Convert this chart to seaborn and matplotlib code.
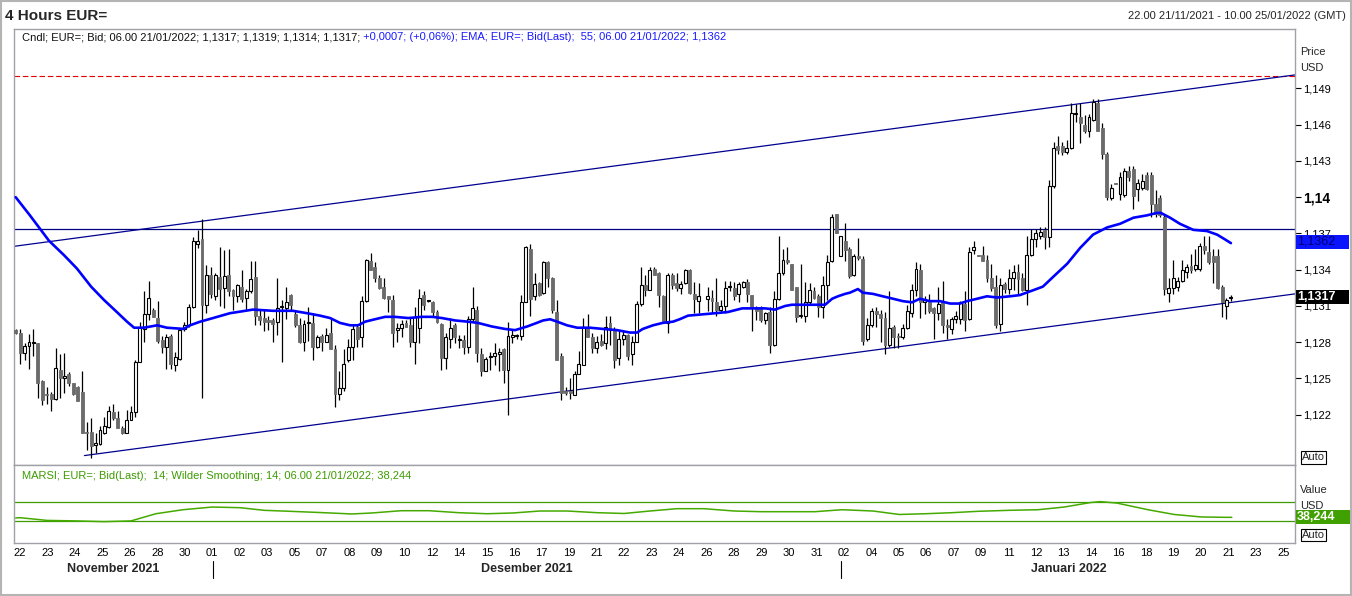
import numpy as np
import pandas as pd
import matplotlib
matplotlib.use('Agg')
import matplotlib.pyplot as plt
import seaborn as sns
from matplotlib.patches import Rectangle
from matplotlib.lines import Line2D

# ---------------- data (prices in pips: price * 10000) ----------------
opens = [
    11290, 11288, 11271, 11277, 11279, 11279, 11248, 11237, 11237, 11233,
    11257, 11250, 11254, 11246, 11243, 11239, 11206, 11206, 11195, 11196,
    11205, 11210, 11222, 11217, 11209, 11205, 11216, 11222, 11264, 11291,
    11303, 11307, 11300, 11282, 11276, 11285, 11261, 11266, 11291, 11294,
    11309, 11361, 11365, 11311, 11336, 11318, 11334, 11325, 11336, 11323,
    11318, 11326, 11317, 11322, 11334, 11302, 11300, 11298, 11298, 11297,
    11309, 11308, 11319, 11303, 11294, 11280, 11296, 11296, 11276, 11285,
    11280, 11288, 11274, 11237, 11242, 11265, 11276, 11293, 11284, 11314,
    11347, 11342, 11333, 11326, 11318, 11315, 11290, 11292, 11296, 11294,
    11280, 11292, 11319, 11314, 11313, 11305, 11295, 11267, 11283, 11294,
    11282, 11282, 11276, 11299, 11307, 11270, 11256, 11268, 11269, 11270,
    11274, 11257, 11284, 11285, 11285, 11313, 11357, 11318, 11329, 11321,
    11346, 11333, 11305, 11269, 11240, 11240, 11236, 11254, 11261, 11293,
    11284, 11275, 11281, 11279, 11296, 11290, 11267, 11283, 11286, 11270,
    11280, 11312, 11327, 11323, 11341, 11337, 11318, 11296, 11336, 11329,
    11325, 11329, 11340, 11320, 11314, None, 11316, 11317, 11313, 11307,
    11310, 11326, 11325, 11320, 11326, 11330, 11319, 11309, 11309, 11298,
    11305, 11278, 11316, 11337, 11348, 11345, 11326, 11302, 11302, 11313,
    11322, 11318, 11309, 11327, 11347, 11386, 11351, 11364, 11357, 11336,
    11351, 11349, 11283, 11294, 11306, 11303, 11300, 11278, 11293, 11285,
    11284, 11292, 11304, 11323, 11340, 11313, 11313, 11308, 11304, 11313,
    11294, 11291, 11299, 11299, 11312, 11299, 11356, 11352, 11352, 11348,
    11333, 11326, 11295, 11328, 11324, 11333, 11338, 11333, 11323, 11352,
    11365, 11368, 11373, 11367, 11409, 11442, 11442, 11437, 11441, 11469,
    11466, 11460, 11455, 11464, 11478, 11457, 11436, 11399, 11412, 11403,
    11402, 11422, 11423, 11407, 11408, 11418, 11418, 11394, 11399, 11384,
    11321, 11325, 11326, 11331, 11338, 11343, 11341, 11341, 11360, 11355,
    11351, 11351, 11326, 11310, 11317]
highs = [
    11291, 11291, 11279, 11287, 11291, 11279, 11249, 11243, 11239, 11275,
    11270, 11271, 11255, 11246, 11244, 11256, 11214, 11217, 11205, 11211,
    11218, 11227, 11229, 11223, 11211, 11224, 11227, 11265, 11297, 11322,
    11331, 11308, 11314, 11285, 11287, 11287, 11272, 11292, 11297, 11312,
    11367, 11373, 11382, 11344, 11342, 11337, 11359, 11356, 11357, 11324,
    11328, 11340, 11324, 11347, 11347, 11307, 11307, 11302, 11300, 11333,
    11315, 11326, 11320, 11307, 11300, 11298, 11309, 11304, 11286, 11287,
    11292, 11300, 11278, 11256, 11274, 11283, 11294, 11295, 11318, 11349,
    11354, 11346, 11336, 11333, 11318, 11319, 11296, 11298, 11298, 11300,
    11309, 11324, 11322, 11315, 11314, 11307, 11296, 11288, 11300, 11296,
    11286, 11286, 11302, 11326, 11310, 11275, 11268, 11272, 11279, 11275,
    11275, 11297, 11290, 11287, 11319, 11360, 11361, 11337, 11330, 11347,
    11347, 11334, 11315, 11271, 11243, 11250, 11256, 11273, 11300, 11303,
    11288, 11285, 11287, 11302, 11302, 11293, 11290, 11289, 11287, 11285,
    11314, 11342, 11336, 11342, 11342, 11338, 11319, 11337, 11337, 11337,
    11331, 11341, 11341, 11330, 11329, None, 11326, 11323, 11333, 11315,
    11331, 11331, 11330, 11330, 11331, 11332, 11319, 11310, 11310, 11305,
    11309, 11322, 11368, 11357, 11359, 11345, 11326, 11345, 11330, 11329,
    11326, 11320, 11335, 11352, 11386, 11386, 11368, 11379, 11359, 11353,
    11366, 11351, 11300, 11308, 11309, 11307, 11305, 11322, 11294, 11288,
    11295, 11311, 11328, 11346, 11345, 11318, 11320, 11309, 11326, 11331,
    11299, 11301, 11306, 11314, 11322, 11359, 11364, 11352, 11360, 11352,
    11345, 11336, 11333, 11330, 11341, 11344, 11345, 11337, 11368, 11374,
    11374, 11375, 11375, 11414, 11446, 11451, 11446, 11447, 11478, 11477,
    11478, 11468, 11469, 11481, 11481, 11461, 11437, 11411, 11412, 11421,
    11424, 11426, 11426, 11415, 11419, 11421, 11421, 11406, 11402, 11385,
    11333, 11348, 11334, 11348, 11345, 11353, 11357, 11362, 11368, 11368,
    11357, 11357, 11327, 11317, 11319]
lows = [
    11287, 11262, 11265, 11258, 11269, 11234, 11228, 11229, 11223, 11232,
    11234, 11238, 11244, 11236, 11231, 11205, 11191, 11184, 11188, 11195,
    11204, 11209, 11216, 11209, 11204, 11205, 11216, 11218, 11264, 11280,
    11298, 11301, 11279, 11271, 11258, 11258, 11256, 11265, 11289, 11293,
    11308, 11358, 11234, 11304, 11317, 11315, 11310, 11308, 11318, 11307,
    11313, 11313, 11307, 11321, 11294, 11294, 11289, 11290, 11280, 11286,
    11264, 11299, 11306, 11293, 11279, 11273, 11281, 11265, 11275, 11273,
    11280, 11274, 11226, 11232, 11240, 11264, 11265, 11276, 11276, 11313,
    11340, 11330, 11324, 11316, 11305, 11276, 11280, 11284, 11293, 11276,
    11262, 11279, 11307, 11313, 11302, 11296, 11257, 11258, 11275, 11279,
    11275, 11270, 11271, 11297, 11264, 11252, 11256, 11257, 11261, 11256,
    11246, 11220, 11279, 11283, 11282, 11313, 11302, 11315, 11318, 11320,
    11326, 11304, 11265, 11232, 11236, 11233, 11236, 11254, 11261, 11284,
    11271, 11271, 11277, 11274, 11278, 11259, 11261, 11278, 11265, 11261,
    11280, 11310, 11318, 11323, 11336, 11309, 11296, 11288, 11324, 11322,
    11320, 11328, 11320, 11304, 11304, None, 11306, 11304, 11302, 11304,
    11304, 11322, 11315, 11313, 11325, 11313, 11289, 11298, 11297, 11295,
    11271, 11277, 11315, 11336, 11345, 11323, 11297, 11300, 11297, 11311,
    11316, 11301, 11300, 11315, 11346, 11370, 11351, 11347, 11333, 11335,
    11348, 11278, 11281, 11293, 11293, 11280, 11270, 11276, 11275, 11275,
    11283, 11291, 11301, 11318, 11300, 11303, 11304, 11283, 11298, 11288,
    11283, 11287, 11296, 11295, 11289, 11298, 11353, 11351, 11347, 11330,
    11322, 11292, 11289, 11321, 11320, 11323, 11320, 11322, 11311, 11351,
    11359, 11365, 11357, 11359, 11408, 11436, 11435, 11436, 11440, 11462,
    11445, 11453, 11450, 11463, 11455, 11432, 11398, 11398, 11411, 11398,
    11400, 11413, 11390, 11397, 11406, 11406, 11384, 11384, 11384, 11319,
    11313, 11320, 11322, 11330, 11333, 11337, 11339, 11339, 11353, 11345,
    11329, 11324, 11301, 11299, 11314]
closes = [
    11288, 11271, 11277, 11280, 11280, 11246, 11232, 11236, 11233, 11259,
    11250, 11252, 11246, 11237, 11231, 11205, 11205, 11194, 11197, 11207,
    11211, 11223, 11217, 11209, 11205, 11216, 11222, 11264, 11293, 11303,
    11317, 11301, 11281, 11276, 11284, 11262, 11268, 11290, 11294, 11309,
    11364, 11364, 11311, 11336, 11320, 11336, 11324, 11335, 11322, 11318,
    11327, 11316, 11322, 11332, 11302, 11298, 11297, 11297, 11295, 11308,
    11310, 11313, 11311, 11294, 11280, 11295, 11297, 11276, 11284, 11280,
    11286, 11274, 11237, 11242, 11262, 11276, 11291, 11283, 11314, 11348,
    11340, 11333, 11325, 11317, 11316, 11288, 11292, 11295, 11293, 11280,
    11301, 11317, 11311, 11314, 11305, 11297, 11267, 11284, 11292, 11284,
    11282, 11276, 11299, 11308, 11271, 11256, 11266, 11269, 11271, 11272,
    11257, 11285, 11286, 11285, 11313, 11359, 11316, 11328, 11319, 11346,
    11333, 11307, 11265, 11238, 11238, 11238, 11254, 11262, 11293, 11284,
    11275, 11280, 11278, 11293, 11290, 11265, 11283, 11286, 11269, 11280,
    11312, 11327, 11323, 11340, 11336, 11319, 11297, 11336, 11327, 11325,
    11328, 11340, 11321, 11316, 11318, None, 11318, 11314, 11307, 11310,
    11325, 11326, 11318, 11328, 11330, 11320, 11309, 11306, 11298, 11304,
    11278, 11316, 11337, 11348, 11346, 11323, 11301, 11302, 11313, 11323,
    11317, 11309, 11327, 11346, 11384, 11370, 11368, 11356, 11335, 11351,
    11350, 11281, 11294, 11306, 11303, 11300, 11278, 11292, 11284, 11284,
    11292, 11306, 11323, 11341, 11313, 11315, 11306, 11304, 11312, 11294,
    11293, 11299, 11302, 11313, 11298, 11355, 11359, 11351, 11347, 11333,
    11325, 11294, 11327, 11324, 11333, 11338, 11332, 11323, 11352, 11365,
    11370, 11371, 11367, 11409, 11441, 11439, 11437, 11441, 11470, 11470,
    11461, 11455, 11466, 11479, 11455, 11436, 11400, 11408, 11411, 11417,
    11422, 11417, 11401, 11412, 11413, 11407, 11394, 11386, 11385, 11324,
    11325, 11333, 11331, 11340, 11342, 11340, 11344, 11360, 11356, 11346,
    11346, 11325, 11313, 11315, 11317]

# EMA(55): (bar index, value in pips)
ema_idx = [0, 3.2, 7.5, 10.9, 13.8, 17.0, 19.9, 22.8, 25.1, 26.7,
           28.9, 31.9, 34.1, 37.9, 39.3, 41.6, 44.5, 48.3, 53.5, 58.0,
           62.5, 65.7, 68.6, 70.9, 73.1, 75.4, 77.2, 78.8, 81.0, 83.3,
           85.5, 88.5, 91.6, 93.9, 96.1, 99.1, 102.0, 104.2, 107.4, 110.3,
           112.6, 115.3, 117.5, 118.9, 120.5, 122.1, 124.3, 126.6, 129.5, 132.4,
           135.6, 138.5, 140.1, 141.4, 143.7, 145.9, 148.2, 149.7, 151.6, 154.7,
           157.7, 160.6, 163.8, 166.7, 169.0, 171.2, 173.5, 175.0, 177.3, 180.2,
           182.5, 184.1, 185.4, 187.0, 188.1, 189.9, 191.0, 193.3, 195.5, 197.8,
           200.0, 202.1, 203.9, 206.1, 208.4, 210.7, 212.9, 214.5, 216.8, 219.0,
           221.3, 224.2, 226.4, 229.4, 231.6, 233.9, 237.1, 240.0, 242.9, 246.1,
           249.0, 252.0, 255.1, 257.3, 258.2, 260.3, 262.5, 265.5, 268.6, 270.9,
           272.7, 274.0]
ema_val = [11400, 11385, 11364, 11352, 11341, 11326, 11315, 11305, 11297, 11292,
           11292, 11294, 11292, 11291, 11294, 11297, 11300, 11304, 11307, 11306,
           11306, 11304, 11302, 11300, 11296, 11294, 11294, 11297, 11299, 11301,
           11301, 11300, 11301, 11301, 11300, 11298, 11297, 11296, 11293, 11291,
           11290, 11293, 11296, 11298, 11299, 11297, 11294, 11292, 11292, 11291,
           11290, 11288, 11288, 11291, 11294, 11296, 11297, 11299, 11302, 11303,
           11304, 11305, 11308, 11308, 11308, 11307, 11310, 11311, 11311, 11311,
           11311, 11316, 11318, 11320, 11321, 11324, 11321, 11320, 11318, 11316,
           11314, 11313, 11316, 11314, 11314, 11312, 11312, 11314, 11316, 11318,
           11317, 11318, 11319, 11323, 11326, 11334, 11345, 11358, 11369, 11375,
           11378, 11383, 11385, 11387, 11387, 11383, 11378, 11373, 11372, 11369,
           11365, 11362]

# MA-RSI
rsi_idx = [0, 1.0, 7.1, 13.6, 19.9, 26.0, 31.6, 37.7, 44.3, 50.6,
           56.0, 61.8, 69.5, 75.8, 80.3, 86.9, 93.2, 99.9, 106.3, 112.1,
           118.2, 124.3, 131.1, 137.2, 143.0, 149.1, 155.2, 162.0, 168.1, 174.1,
           180.2, 186.3, 193.3, 199.2, 205.1, 211.1, 217.0, 224.0, 230.5, 236.4,
           242.3, 244.5, 248.3, 255.3, 261.2, 267.3, 273.1, 274.2]
rsi_val = [37.0, 37.5, 32.0, 31.0, 29.5, 31.0, 45.5, 53.6, 59.0, 57.7,
           52.4, 50.4, 47.6, 45.0, 47.0, 51.6, 51.6, 47.6, 45.5, 47.0,
           51.0, 51.0, 47.6, 46.0, 51.0, 55.7, 55.7, 51.0, 49.6, 49.6,
           49.6, 53.6, 51.0, 44.0, 45.5, 47.6, 50.4, 52.4, 53.6, 59.0,
           68.0, 70.0, 67.0, 53.6, 44.0, 39.0, 38.2, 38.244]
rsi_levels = [70, 30]

# drawn lines: channel and levels (bar index, price)
upper_channel_x = [-0.27, 288.45]
upper_channel_y = [1.13594, 1.15012]
lower_channel_x = [15.5, 288.45]
lower_channel_y = [1.11862, 1.13200]
dashed_level = 1.15007
resistance_level = 1.13735

price_ticks = [1.122, 1.125, 1.128, 1.131, 1.134, 1.137, 1.140, 1.143, 1.146, 1.149]
price_labels = ['1,122', '1,125', '1,128', '1,131', '1,134', '1,137', '1,14',
                '1,143', '1,146', '1,149']
day_labels = ['22', '23', '24', '25', '26', '28', '30', '01', '02', '03', '05', '07',
              '08', '09', '10', '12', '14', '15', '16', '17', '19', '21', '22', '23',
              '24', '26', '28', '29', '30', '31', '02', '04', '05', '06', '07', '09',
              '11', '12', '13', '14', '16', '18', '19', '20', '21', '23', '25']
month_labels = ['November 2021', 'Desember 2021', 'Januari 2022']

# ---------------- figure ----------------
sns.set_style('white')
plt.rcParams['font.family'] = ['Liberation Sans', 'DejaVu Sans']

W, H = 1352, 596
fig = plt.figure(figsize=(W / 100, H / 100), dpi=100)
fig.patch.set_facecolor('white')


def fx(x):
    return x / W


def fy(y):
    return 1 - y / H


ax = fig.add_axes([fx(14.5), fy(465), (1295 - 14.5) / W, (465 - 28.5) / H])
axr = fig.add_axes([fx(14.5), fy(543), (1295 - 14.5) / W, (543 - 465) / H], sharex=ax)

df = pd.DataFrame({'o': opens, 'h': highs, 'l': lows, 'c': closes}, dtype=float) / 10000.0
df['i'] = np.arange(len(df))
df = df.dropna()
up = df[df.c >= df.o]
dn = df[df.c < df.o]
minh = 0.00008

ax.vlines(df.i, df.l, df.h, color='black', lw=0.9, zorder=2)
ax.bar(up.i, np.maximum(up.c - up.o, minh), bottom=up.o, width=0.66,
       facecolor='white', edgecolor='black', lw=0.8, zorder=3)
ax.bar(dn.i, np.maximum(dn.o - dn.c, minh), bottom=dn.c, width=0.66,
       facecolor='#6b6b6b', edgecolor='#6b6b6b', lw=0.6, zorder=3)

ax.axhline(dashed_level, color='#e00000', lw=0.8, dashes=(5, 2.5), zorder=1)
ax.axhline(resistance_level, color='#000080', lw=0.9, zorder=1)
ax.plot(upper_channel_x, upper_channel_y, color='#000090', lw=0.9, zorder=1)
ax.plot(lower_channel_x, lower_channel_y, color='#000090', lw=0.9, zorder=1)

sns.lineplot(x=np.array(ema_idx), y=np.array(ema_val) / 10000.0, ax=ax,
             color='#0000ff', lw=1.9, estimator=None, sort=False, zorder=4)

ax.set_xlim(-0.27, 288.45)
ax.set_ylim(1.11784, 1.15396)
ax.yaxis.tick_right()
ax.set_yticks(price_ticks)
ax.set_yticklabels(price_labels)
ax.tick_params(axis='y', direction='out', length=4, width=0.8, colors='black',
               labelsize=8, pad=2, right=True, left=False, labelright=True, labelleft=False)
ax.tick_params(axis='x', length=0, labelbottom=False)
for lab in ax.get_yticklabels():
    if lab.get_text() == '1,14':
        lab.set_fontweight('bold')
        lab.set_fontsize(10)
ax.set_xlabel('')
ax.set_ylabel('')

# RSI panel
for lv in rsi_levels:
    axr.axhline(lv, color='#3c9c00', lw=0.9, zorder=1)
sns.lineplot(x=np.array(rsi_idx), y=np.array(rsi_val), ax=axr, color='#44aa00',
             lw=1.1, estimator=None, sort=False, zorder=3)
axr.set_ylim(-13.6, 143.9)
axr.set_yticks([])
tick_pos = [(20 + 27.46 * k - 15.7) / 4.435 for k in range(len(day_labels))]
axr.set_xticks(tick_pos)
axr.set_xticklabels(day_labels)
axr.tick_params(axis='x', length=0, labelsize=8, pad=3.5, colors='black')
axr.set_xlabel('')
axr.set_ylabel('')

for a in (ax, axr):
    for s in a.spines.values():
        s.set_color('#a0a0a8')
        s.set_linewidth(1.0)

# ---------------- texts ----------------
fig.text(fx(5), fy(16), '4 Hours EUR=', fontsize=11, fontweight='bold', ha='left', va='center')
fig.text(fx(1346), fy(16), '22.00 21/11/2021 - 10.00 25/01/2022 (GMT)', fontsize=8,
         ha='right', va='center')

t1 = fig.text(fx(22), fy(37), 'Cndl; EUR=; Bid; 06.00 21/01/2022; 1,1317; 1,1319; 1,1314; 1,1317;',
              fontsize=8, color='#101010', ha='left', va='center')
ax.annotate(' +0,0007; (+0,06%); EMA; EUR=; Bid(Last);  55; 06.00 21/01/2022; 1,1362',
            xy=(1, 0.5), xycoords=t1, fontsize=8, color='#1a1aff', ha='left', va='center')
fig.text(fx(22), fy(476), 'MARSI; EUR=; Bid(Last);  14; Wilder Smoothing; 14; 06.00 21/01/2022; 38,244',
         fontsize=8, color='#3c9c00', ha='left', va='center')

fig.text(fx(1300), fy(52), 'Price', fontsize=8, ha='left', va='center')
fig.text(fx(1300), fy(68), 'USD', fontsize=8, ha='left', va='center')
fig.text(fx(1300), fy(490), 'Value', fontsize=8, ha='left', va='center')
fig.text(fx(1300), fy(506), 'USD', fontsize=8, ha='left', va='center')


def box(x0, y0, x1, y1, fc, ec='none', lw=0.0):
    fig.add_artist(Rectangle((fx(x0), fy(y1)), (x1 - x0) / W, (y1 - y0) / H,
                             transform=fig.transFigure, facecolor=fc, edgecolor=ec,
                             lw=lw, zorder=5))


box(1295.5, 235, 1349, 249, '#0a14ff')
fig.text(fx(1297), fy(242), '1,1362', fontsize=9, color='#000070', ha='left', va='center', zorder=6)
box(1295.5, 290, 1349, 303.5, 'black')
fig.text(fx(1297), fy(296.5), '1,1317', fontsize=9, color='white', fontweight='bold',
         ha='left', va='center', zorder=6)
box(1295.5, 510, 1351, 524, '#3fa000')
fig.text(fx(1297), fy(517), '38,244', fontsize=9, color='white', fontweight='bold',
         ha='left', va='center', zorder=6)

box(1301, 451, 1326, 464, 'white', 'black', 0.8)
fig.text(fx(1313.5), fy(457.5), 'Auto', fontsize=8, ha='center', va='center', zorder=6)
box(1301, 529, 1326, 541, 'white', 'black', 0.8)
fig.text(fx(1313.5), fy(535), 'Auto', fontsize=8, ha='center', va='center', zorder=6)

for lab, xc in zip(month_labels, [113, 527, 1069]):
    fig.text(fx(xc), fy(569), lab, fontsize=9, fontweight='bold', ha='center', va='center')
for xs in (213, 841):
    fig.add_artist(Line2D([fx(xs), fx(xs)], [fy(561), fy(578)], transform=fig.transFigure,
                          color='black', lw=0.8))

fig.add_artist(Rectangle((0.6 / W, 0.6 / H), 1 - 1.2 / W, 1 - 1.2 / H, transform=fig.transFigure,
                         fill=False, edgecolor='#b4b4b4', lw=1.5, zorder=10))

fig.savefig('out.png', dpi=100, facecolor='white')
